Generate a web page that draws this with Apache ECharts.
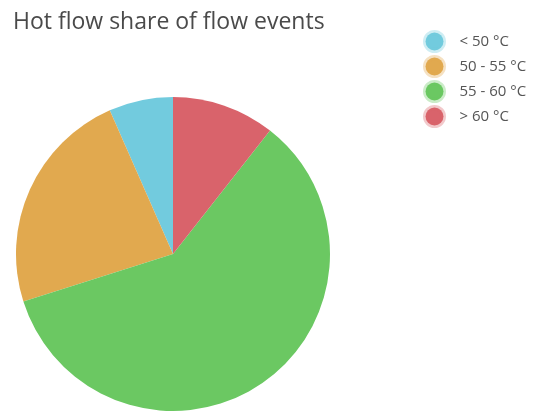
<!DOCTYPE html>
<html>
<head>
<meta charset="utf-8">
<script src="https://cdn.jsdelivr.net/npm/echarts@6/dist/echarts.min.js"></script>
<style>
  html, body { margin: 0; padding: 0; background: #fff; }
  #chart { width: 538px; height: 412px; }
</style>
</head>
<body>
<div id="chart"></div>
<script>
// Temperature bands and their share of hot flow events (%)
const categories = ['< 50 °C', '50 - 55 °C', '55 - 60 °C', '> 60 °C'];
const shares = [6.6, 23.3, 59.5, 10.6];
const colors = ['#72cbde', '#e1a94f', '#6bc862', '#d9636b'];
const halos = ['rgba(114,203,222,0.35)', 'rgba(225,169,79,0.35)', 'rgba(107,200,98,0.35)', 'rgba(217,99,107,0.35)'];

const chart = echarts.init(document.getElementById('chart'), null, { renderer: 'canvas' });

chart.setOption({
  animation: false,
  color: colors,
  title: {
    text: 'Hot flow share of flow events',
    left: 13,
    top: 11,
    padding: 0,
    textStyle: {
      fontFamily: 'Open Sans',
      fontSize: 23,
      fontWeight: 'normal',
      color: '#4a4a4a'
    }
  },
  legend: {
    orient: 'vertical',
    left: 418,
    top: 25,
    itemWidth: 18,
    itemHeight: 18,
    itemGap: 2,
    icon: 'circle',
    data: categories.map((name, i) => ({
      name: name,
      itemStyle: { color: colors[i], borderColor: halos[i], borderWidth: 5 }
    })),
    textStyle: {
      fontFamily: 'Open Sans',
      fontSize: 15,
      color: '#555',
      padding: [0, 0, 0, 11]
    }
  },
  series: [{
    type: 'pie',
    center: [173, 254],
    radius: 157,
    startAngle: 90,
    clockwise: false,
    avoidLabelOverlap: false,
    label: { show: false },
    labelLine: { show: false },
    emphasis: { disabled: true },
    itemStyle: { borderWidth: 0 },
    data: categories.map((name, i) => ({ name: name, value: shares[i] }))
  }]
});
</script>
</body>
</html>
